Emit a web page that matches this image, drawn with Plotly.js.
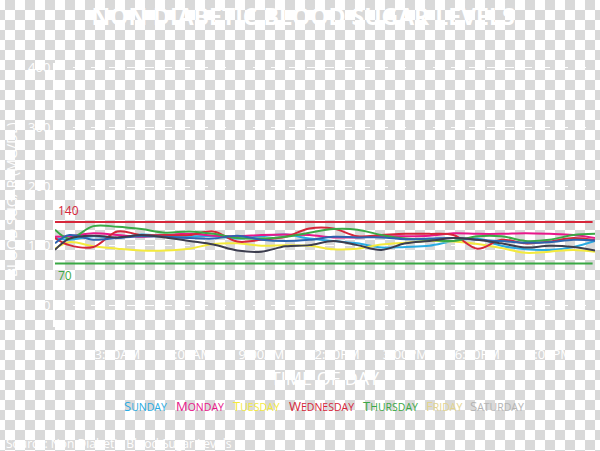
<!DOCTYPE html>
<html><head><meta charset="utf-8">
<script src="https://cdn.plot.ly/plotly-3.0.1.min.js"></script>
<style>
html,body{margin:0;padding:0;}
body{width:600px;height:451px;overflow:hidden;background:repeating-conic-gradient(#d9d9d9 0 25%,#ffffff 0 50%) -5px 0/20px 20px;}
#chart{width:600px;height:451px;}
</style></head>
<body><div id="chart"></div>
<script>
const hours = [0.4,1,2,3,4,5,6,7,8,9,10,11,12,13,14,15,16,17,18,19,20,21,22,22.9];
const tickVals = [3,6,9,12,15,18,21];
const tickText = ['3:00AM','6:00AM','9:00AM','12:00PM','3:00PM','6:00PM','9:00PM'];
const yTicks = [0,100,200,300,400];

const sunday    = [113,110,116,113,119,116,116,116,112,116,119,112,108,104,97,98,100,108,112,100,94,93,98,108];
const monday    = [115,116,121,118,115,118,120,117,116,118,119,118,114,114,116,116,117,121,120,120,121,120,118,113];
const tuesday   = [95,106,99,95,92,92,95,103,104,100,101,100,94,95,102,105,108,107,103,96,88,90,93,90];
const wednesday = [113,101,98,124,118,118,118,124,107,110,115,129,129,116,118,120,120,118,95,110,104,107,113,109];
const thursday  = [127,112,133,132,128,122,124,120,113,112,115,122,128,127,118,112,110,108,116,116,108,110,118,120];
const friday    = [104,118,110,113,116,115,113,112,117,110,108,110,115,114,114,111,112,113,110,108,105,106,110,109];
const saturday  = [93,112,117,114,118,114,108,102,92,90,99,101,108,101,93,104,108,113,110,104,97,100,98,92];

const highLimit = 140;
const lowLimit = 70;

const dayNames = ['Sunday','Monday','Tuesday','Wednesday','Thursday','Friday','Saturday'];
const lineColors = ['#29abe2','#e8178a','#f4ea3c','#d6263a','#3aa845','#2d64b0','#3c3d4e'];
const labelColors = ['#29abe2','#e8178a','#f4ea3c','#d6263a','#3aa845','#e3d48e','#b4b4b4'];
const series = [sunday,monday,tuesday,wednesday,thursday,friday,saturday];

const traces = series.map((s,i)=>({
  x: hours, y: s, type:'scatter', mode:'lines', name: dayNames[i],
  line:{color: lineColors[i], width:2, shape:'spline', smoothing:1},
  hoverinfo:'skip'
}));

const font = 'Open Sans, Lato, sans-serif';
const legendX = [145,200,256,321,390,444,497];
const px = v => (v-55)/540;
const py = v => (327-v)/264;
const smallCaps = (t, big, small) => t.split(' ').map(w =>
  '<span style="font-size:'+big+'px">'+w.charAt(0).toUpperCase()+'</span>' +
  (w.length>1 ? '<span style="font-size:'+small+'px">'+w.slice(1).toUpperCase()+'</span>' : '')).join(' ');

const annotations = dayNames.map((d,i)=>({
  text: smallCaps(d,13,10.5), xref:'paper', yref:'paper', x: px(legendX[i]), y: py(406),
  showarrow:false, xanchor:'center', yanchor:'middle',
  font:{family:font, size:13, color:labelColors[i]}
}));
annotations.push({text:String(highLimit), xref:'x', yref:'y', x:0.45, y:highLimit, xanchor:'left', yanchor:'bottom', yshift:1, showarrow:false, font:{family:font,size:12,color:'#d6263a'}});
annotations.push({text:String(lowLimit), xref:'x', yref:'y', x:0.45, y:lowLimit, xanchor:'left', yanchor:'top', yshift:-1, showarrow:false, font:{family:font,size:12,color:'#3aa845'}});
annotations.push({text:'BLOOD SUGAR (MG/DL)', xref:'paper', yref:'paper', x:px(11), y:py(200), textangle:-90, showarrow:false, xanchor:'center', yanchor:'middle', font:{family:font,size:14,color:'#ffffff'}});
annotations.push({text:'Source: Non Diabetic Blood Sugar Levels', xref:'paper', yref:'paper', x:px(4), y:py(443), showarrow:false, xanchor:'left', yanchor:'middle', font:{family:font,size:12,color:'#ffffff'}});

const layout = {
  width:600, height:451,
  paper_bgcolor:'rgba(0,0,0,0)', plot_bgcolor:'rgba(0,0,0,0)',
  margin:{l:55, r:5, t:63, b:124},
  showlegend:false,
  title:{text:'NON DIABETIC BLOOD SUGAR LEVELS', x:0.505, xanchor:'center', y:1-17/451, yanchor:'middle',
    font:{family:font, size:23, color:'#ffffff', weight:'bold'}},
  xaxis:{range:[0.4,22.9], tickvals:tickVals, ticktext:tickText, showgrid:false, zeroline:false,
    showline:false, ticks:'', ticklabelstandoff:18,
    tickfont:{family:font,size:13,color:'#ffffff'},
    title:{text:'TIME OF DAY', standoff:10, font:{family:font,size:18,color:'#ffffff'}}},
  yaxis:{range:[-37,408], tickvals:yTicks, showgrid:true, gridcolor:'#ffffff', griddash:'dash', gridwidth:1,
    zeroline:false, showline:true, linecolor:'#ffffff', linewidth:2, ticks:'',
    tickfont:{family:font,size:13,color:'#ffffff'}},
  shapes:[
    {type:'line', xref:'x', yref:'y', x0:0.4, x1:22.8, y0:highLimit, y1:highLimit, line:{color:'#d6263a', width:2}},
    {type:'line', xref:'x', yref:'y', x0:0.4, x1:22.8, y0:lowLimit, y1:lowLimit, line:{color:'#3aa845', width:2}}
  ],
  annotations: annotations
};
Plotly.newPlot('chart', traces, layout, {displayModeBar:false, staticPlot:true});
</script></body></html>
